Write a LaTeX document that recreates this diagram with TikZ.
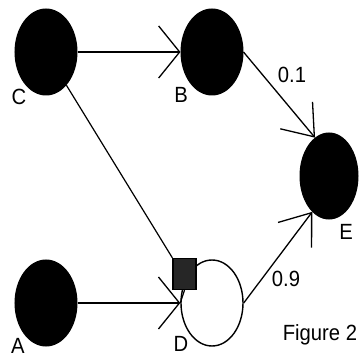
\documentclass[tikz,border=0pt]{standalone}
\usepackage{fontspec}
\setmainfont{Liberation Sans}
\usetikzlibrary{shapes.geometric,arrows.meta}
\newcommand{\lbltext}[1]{\scalebox{0.92}[1]{#1}}
\begin{document}
\begin{tikzpicture}[x=1pt,y=-1pt,
  darknode/.style={ellipse,fill=black,draw=black,line width=1pt,minimum width=62pt,minimum height=86pt,inner sep=0pt},
  whitenode/.style={ellipse,fill=white,draw=black,line width=1.4pt,minimum width=62pt,minimum height=86pt,inner sep=0pt},
  gatebox/.style={rectangle,fill=black!85,draw=black,line width=1.2pt,minimum width=23pt,minimum height=31pt,inner sep=0pt},
  lbl/.style={font=\fontsize{22}{22}\selectfont,inner sep=0pt},
  hconn/.style={line width=1.3pt,-{Straight Barb[length=21pt,width=52pt,line width=1.3pt]}},
  dconn/.style={line width=1.3pt,-{Straight Barb[length=28pt,width=42pt,line width=1.3pt]}},
  plainconn/.style={line width=1.2pt}]
\useasboundingbox (0,0) rectangle (359,358);
\node[darknode] (C) at (46,52) {};
\node[darknode] (B) at (212,52) {};
\node[darknode,minimum width=58pt] (E) at (329,176) {};
\node[darknode] (A) at (46,303) {};
\node[whitenode] (D) at (212,303) {};
\node[gatebox] (s) at (184.5,274) {};
\node[lbl] (lC) at (19,97) {\lbltext{C}};
\node[lbl] (lB) at (181,95) {\lbltext{B}};
\node[lbl] (lE) at (346,232) {\lbltext{E}};
\node[lbl] (lA) at (18,346) {\lbltext{A}};
\node[lbl] (lD) at (181,344) {\lbltext{D}};
\node[lbl] (p1) at (292,75) {\lbltext{0.1}};
\node[lbl] (p9) at (286,279) {\lbltext{0.9}};
\node[lbl,anchor=base] (fig) at (320,341) {\lbltext{Figure 2}};
\draw[hconn] (C) -- (B);
\draw[hconn] (A) -- (D);
\draw[dconn] (B.east) -- (E.110);
\draw[dconn] (D.east) -- (E.245);
\draw[plainconn] (C) -- (s.north west);
\draw[plainconn] (s.south) -- (D.west);
\end{tikzpicture}
\end{document}
